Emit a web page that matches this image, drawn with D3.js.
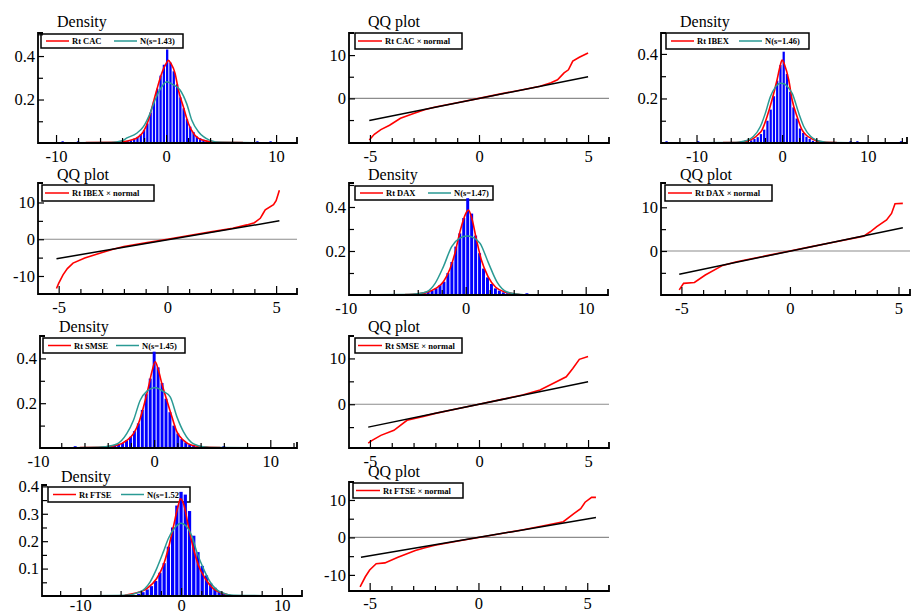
<!DOCTYPE html>
<html>
<head>
<meta charset="utf-8">
<script src="https://cdn.jsdelivr.net/npm/d3@7/dist/d3.min.js"></script>
<style>
  body { margin: 0; background: #fff; }
  svg text { font-family: "Liberation Serif", "Times New Roman", serif; fill: #000; }
  .tick text { font-size: 16.5px; }
  .title { font-size: 16px; }
  .leg { font-size: 8.5px; font-weight: bold; }
</style>
</head>
<body>
<svg id="chart" width="911" height="614"></svg>
<script>
// ---- values ----
const markets = ["CAC", "IBEX", "DAX", "SMSE", "FTSE"];
const normalSigma = ["1.43", "1.46", "1.47", "1.45", "1.52"];

// histogram: first bin edge, bin width, bar heights
const histStart = [-4.25, -4.18, -3.63, -3.57, -4.41];
const histWidth = [0.30, 0.38, 0.33, 0.34, 0.42];
const histCAC = [0.005,0.008,0.01,0.012,0.02,0.028,0.04,0.06,0.09,0.14,0.19,0.25,0.31,0.36,0.43,0.37,0.33,0.27,0.21,0.16,0.11,0.075,0.05,0.03,0.022,0.015,0.01,0.006,0.004];
const histIBEX = [0.007,0.012,0.018,0.026,0.04,0.06,0.1,0.15,0.21,0.28,0.35,0.41,0.31,0.23,0.16,0.11,0.065,0.045,0.028,0.018,0.01,0.006];
const histDAX = [0.012,0.015,0.02,0.03,0.045,0.06,0.1,0.15,0.22,0.28,0.35,0.44,0.37,0.27,0.19,0.12,0.08,0.05,0.03,0.02,0.012,0.008,0.005];
const histSMSE = [0.01,0.016,0.022,0.034,0.05,0.075,0.11,0.17,0.24,0.31,0.43,0.36,0.29,0.22,0.16,0.1,0.065,0.04,0.025,0.016,0.01,0.006];
const histFTSE = [0.008,0.014,0.024,0.036,0.055,0.085,0.12,0.18,0.25,0.33,0.38,0.37,0.31,0.22,0.16,0.11,0.075,0.046,0.03,0.018,0.01];

// isolated observations far in the tails
const tailCAC = [-9.4, -8.0, 8.3, 9.5];
const tailIBEX = [-13.5, -9.8, 8.0, 8.8, 13.9];
const tailDAX = [5.1];
const tailSMSE = [-6.8, 6.0];
const tailFTSE = [];

// kernel density (red) [x, density]
const kernelCAC = [[-7.3,0.002],[-4.5,0.003],[-4,0.006],[-3.5,0.009],[-3,0.016],[-2.6,0.025],[-2.06,0.052],[-1.6,0.106],[-1.3,0.16],[-0.85,0.244],[-0.4,0.32],[0,0.365],[0.21,0.38],[0.45,0.365],[0.82,0.32],[1.12,0.244],[1.57,0.167],[2.03,0.09],[2.6,0.037],[3,0.02],[3.5,0.011],[4,0.006],[4.5,0.003],[7,0.002]];
const kernelIBEX = [[-6.9,0.002],[-5.3,0.002],[-4.5,0.006],[-4,0.01],[-3.3,0.022],[-2.8,0.038],[-2.35,0.058],[-1.76,0.118],[-1.18,0.193],[-0.59,0.283],[-0.2,0.35],[0,0.373],[0.3,0.35],[0.78,0.283],[1.18,0.193],[1.76,0.118],[2.35,0.058],[2.8,0.036],[3.33,0.022],[4,0.01],[4.9,0.004],[6.4,0.002]];
const kernelDAX = [[-5.05,0.002],[-4,0.006],[-3.25,0.012],[-2.5,0.03],[-1.86,0.06],[-1.3,0.12],[-0.9,0.19],[-0.47,0.29],[0,0.37],[0.22,0.386],[0.5,0.35],[0.9,0.25],[1.3,0.16],[1.85,0.085],[2.5,0.035],[3.35,0.012],[4,0.006],[4.5,0.002]];
const kernelSMSE = [[-6.4,0.002],[-4.4,0.004],[-3.2,0.012],[-2.36,0.034],[-1.78,0.064],[-1.35,0.109],[-0.92,0.183],[-0.49,0.273],[-0.15,0.35],[0.09,0.385],[0.35,0.35],[0.66,0.288],[1.09,0.213],[1.53,0.139],[1.96,0.072],[2.53,0.034],[3.25,0.012],[4.5,0.004],[5.7,0.002]];
const kernelFTSE = [[-5.6,0.003],[-4.7,0.009],[-3.4,0.027],[-2.42,0.064],[-1.76,0.112],[-1.26,0.174],[-0.76,0.253],[-0.35,0.32],[-0.05,0.355],[0.3,0.33],[0.73,0.253],[1.22,0.174],[1.72,0.112],[2.39,0.064],[3.2,0.027],[4.2,0.009],[4.9,0.003]];

// fitted normal (teal) [x, density]
const normalCAC = [[-11.64,0],[-5,0.002],[-4,0.01],[-3.6,0.022],[-2.67,0.045],[-2.06,0.075],[-1.45,0.137],[-1.0,0.198],[-0.5,0.25],[0.06,0.282],[0.5,0.272],[1.27,0.244],[1.88,0.18],[2.33,0.106],[2.94,0.052],[3.4,0.029],[4,0.012],[5,0.003],[11.9,0]];
const normalIBEX = [[-14.15,0],[-5.5,0.002],[-4.5,0.008],[-3.9,0.015],[-3.33,0.03],[-2.55,0.073],[-1.96,0.133],[-1.37,0.208],[-0.8,0.25],[-0.2,0.268],[0.3,0.265],[0.7,0.25],[1.18,0.223],[1.96,0.133],[2.55,0.073],[3.33,0.03],[3.9,0.015],[4.5,0.008],[5.5,0.002],[14.6,0]];
const normalDAX = [[-9.73,0],[-5,0.002],[-4,0.006],[-3.25,0.015],[-2.55,0.053],[-1.86,0.129],[-1.17,0.22],[-0.5,0.258],[0.1,0.268],[0.6,0.262],[1.2,0.235],[1.9,0.145],[2.6,0.06],[3.4,0.015],[4.2,0.005],[5.5,0.001],[11.86,0]];
const normalSMSE = [[-9.83,0],[-5.5,0.002],[-4.2,0.006],[-3.2,0.018],[-2.36,0.064],[-1.78,0.124],[-1.2,0.213],[-0.6,0.255],[0.09,0.27],[0.7,0.255],[1.38,0.228],[1.96,0.139],[2.53,0.072],[3.4,0.018],[4.3,0.005],[5.5,0.002],[12.3,0]];
const normalFTSE = [[-13.8,0],[-5.5,0.003],[-4.08,0.015],[-3.08,0.051],[-2.42,0.1],[-1.76,0.161],[-1.26,0.21],[-0.6,0.25],[0,0.265],[0.5,0.255],[1.06,0.22],[1.56,0.161],[2.22,0.1],[2.89,0.051],[3.88,0.015],[5.2,0.003],[12.0,0]];

// QQ plots: empirical quantiles (red) and reference line (black)
const qqCAC = [[-5.03,-9.6],[-4.8,-8.3],[-4.5,-7.2],[-4.1,-6.2],[-3.6,-4.6],[-3.0,-3.5],[-2.5,-2.6],[-2,-2.0],[-1,-1.0],[0,0],[1,1.05],[2,2.0],[2.8,2.8],[3.3,3.6],[3.6,4.3],[3.9,5.9],[4.1,6.6],[4.3,8.6],[4.6,9.5],[5.0,10.5]];
const qqIBEX = [[-5.1,-13.4],[-5.0,-12],[-4.8,-9.7],[-4.6,-8],[-4.34,-6.5],[-3.8,-5.1],[-3.0,-3.6],[-2.5,-2.7],[-2,-2.0],[-1,-1],[0,0],[1,1],[2,2],[3,3],[3.66,3.9],[4.0,4.5],[4.27,5.7],[4.4,7],[4.5,8.0],[4.88,9.4],[5.0,10.5],[5.15,13.3]];
const qqDAX = [[-5.1,-8.9],[-4.9,-7.4],[-4.4,-7.2],[-3.9,-5.5],[-3.1,-3.3],[-2.5,-2.5],[-2,-2],[-1,-1],[0,0],[1,1],[2,2],[3,3.0],[3.4,3.4],[3.7,4.4],[4.0,5.6],[4.45,7.1],[4.68,8.6],[4.84,10.8],[5.2,10.9]];
const qqSMSE = [[-5.08,-8.5],[-4.9,-7.9],[-4.5,-6.8],[-3.9,-5.7],[-3.3,-3.5],[-2.5,-2.6],[-2,-2],[-1,-1],[0,0],[1,1],[2,2],[2.8,3.1],[3.55,4.9],[4.0,6.0],[4.3,7.8],[4.6,9.8],[5.0,10.4]];
const qqFTSE = [[-5.44,-13.2],[-5.2,-10.5],[-5.0,-8.7],[-4.7,-7.0],[-4.3,-6.8],[-3.7,-5.3],[-2.9,-3.5],[-2.5,-2.8],[-2,-2.1],[-1,-1],[0,0],[1,1],[2,2],[3,3.1],[3.9,4.2],[4.4,6.4],[4.7,7.7],[4.9,9.4],[5.2,10.7],[5.4,10.7]];
const qqLineCAC = [[-5.03,-5.1],[5.0,5.0]];
const qqLineIBEX = [[-5.1,-5.3],[5.15,5.0]];
const qqLineDAX = [[-5.1,-5.3],[5.2,5.3]];
const qqLineSMSE = [[-5.08,-5.0],[5.0,4.9]];
const qqLineFTSE = [[-5.4,-5.3],[5.4,5.3]];

// tick labels
const densXLabels = [-10, 0, 10];
const densYLabels = [0.2, 0.4];
const ftseYLabels = [0.1, 0.2, 0.3, 0.4];
const qqXLabels = [-5, 0, 5];
const qqYLabels = [[0, 10], [-10, 0, 10], [0, 10], [0, 10], [-10, 0, 10]];

const hists = [histCAC, histIBEX, histDAX, histSMSE, histFTSE];
const tails = [tailCAC, tailIBEX, tailDAX, tailSMSE, tailFTSE];
const kernels = [kernelCAC, kernelIBEX, kernelDAX, kernelSMSE, kernelFTSE];
const normals = [normalCAC, normalIBEX, normalDAX, normalSMSE, normalFTSE];
const qqs = [qqCAC, qqIBEX, qqDAX, qqSMSE, qqFTSE];
const qqLines = [qqLineCAC, qqLineIBEX, qqLineDAX, qqLineSMSE, qqLineFTSE];

// ---- layout ----
const densBoxes = [
  {L: 38, T: 33, R: 297, B: 143, xd: [-11.64, 11.9], yd: [0, 0.506], pad: 7, tt: 6},
  {L: 661, T: 33, R: 907, B: 143, xd: [-14.15, 14.6], yd: [0, 0.494], pad: 7, tt: 6},
  {L: 349, T: 183, R: 608, B: 295, xd: [-9.73, 11.86], yd: [0, 0.509], pad: 7, tt: 3},
  {L: 40, T: 336, R: 297, B: 448, xd: [-9.83, 12.3], yd: [0, 0.5], pad: 7, tt: 4},
  {L: 42, T: 485, R: 302, B: 596, xd: [-13.8, 12.0], yd: [0, 0.405], pad: 3, tt: 3}
];
const densLegend = [[41, 34, 142, 14], [666, 33, 143, 16], [355, 186, 138, 14], [43, 338, 142, 15], [48, 487, 142, 15]];
const qqBoxes = [
  {L: 349, T: 33, R: 609, B: 143, xd: [-5.96, 5.96], yd: [-10.3, 15.1], pad: 7, tt: 6},
  {L: 38, T: 183, R: 297, B: 294, xd: [-5.95, 5.96], yd: [-14.9, 15.3], pad: 7, tt: 3},
  {L: 661, T: 183, R: 910, B: 295, xd: [-5.94, 5.53], yd: [-10.07, 15.56], pad: 7, tt: 3},
  {L: 349, T: 336, R: 609, B: 448, xd: [-5.96, 5.96], yd: [-9.56, 14.9], pad: 7, tt: 4},
  {L: 349, T: 482, R: 609, B: 591, xd: [-5.95, 6.0], yd: [-14.3, 14.8], pad: 6, tt: 5}
];
const qqLegend = [[355, 33, 107, 16], [42, 185, 112, 16], [665, 185, 107, 16], [355, 338, 107, 15], [353, 483, 110, 15]];

const RED = "#ff0000", TEAL = "#2a9a94", BLUE = "#0000ff";
const svg = d3.select("#chart");

function title(g, p, txt) {
  g.append("text").attr("class", "title").attr("x", p.L + 19).attr("y", p.T - p.tt).text(txt);
}

function steps(lo, hi, step, skip) {
  // tick positions inside the axis range, leaving out labelled ones
  return d3.range(Math.ceil(lo / step) * step, hi, step)
    .map(v => +v.toFixed(3))
    .filter(v => v > lo + step * 0.1 && !skip.includes(v));
}

function axes(g, p, x, y, xMinor, xMajor, yMinor, yMajor) {
  const fmt = d => String(d);
  const inX = d => d >= p.xd[0] && d <= p.xd[1];

  const gxm = g.append("g").attr("transform", `translate(0,${p.B})`)
    .call(d3.axisBottom(x).tickValues(xMinor).tickSize(-5).tickSizeOuter(0).tickFormat(""));
  const gx = g.append("g").attr("transform", `translate(0,${p.B})`)
    .call(d3.axisBottom(x).tickValues(xMajor).tickSize(-8).tickSizeOuter(0).tickPadding(p.pad).tickFormat(fmt));
  gx.selectAll(".tick line").filter(d => !inX(d)).remove();

  const gym = g.append("g").attr("transform", `translate(${p.L},0)`)
    .call(d3.axisLeft(y).tickValues(yMinor).tickSize(-5).tickSizeOuter(0).tickFormat(""));
  const gy = g.append("g").attr("transform", `translate(${p.L},0)`)
    .call(d3.axisLeft(y).tickValues(yMajor).tickSize(-6).tickSizeOuter(0).tickPadding(3).tickFormat(fmt));

  [gxm, gx, gym, gy].forEach(a => {
    a.attr("font-family", null).attr("font-size", null);
    a.select(".domain").remove();
    a.selectAll(".tick line").attr("stroke-width", 1.2);
  });

  // axis frame with the little end stubs
  g.append("path")
    .attr("d", `M${p.L + 5},${p.T}H${p.L}V${p.B}H${p.R}V${p.B - 6}`)
    .attr("fill", "none").attr("stroke", "#000").attr("stroke-width", 1.8);
}

function drawDensity(i) {
  const p = densBoxes[i];
  const g = svg.append("g");
  const x = d3.scaleLinear().domain(p.xd).range([p.L, p.R]);
  const y = d3.scaleLinear().domain(p.yd).range([p.B, p.T]);

  title(g, p, "Density");

  // legend
  const [lx, ly, lw, lh] = densLegend[i];
  const my = ly + lh / 2;
  g.append("rect").attr("x", lx).attr("y", ly).attr("width", lw).attr("height", lh)
    .attr("fill", "#fff").attr("stroke", "#000").attr("stroke-width", 1.5);
  g.append("line").attr("x1", lx + 5).attr("x2", lx + 28).attr("y1", my).attr("y2", my)
    .attr("stroke", RED).attr("stroke-width", 1.5);
  g.append("text").attr("class", "leg").attr("x", lx + 31).attr("y", my + 3).text("Rt " + markets[i]);
  g.append("line").attr("x1", lx + 73).attr("x2", lx + 96).attr("y1", my).attr("y2", my)
    .attr("stroke", TEAL).attr("stroke-width", 1.5);
  g.append("text").attr("class", "leg").attr("x", lx + 99).attr("y", my + 3)
    .text("N(s=" + normalSigma[i] + ")");

  // histogram
  const w = histWidth[i], s = histStart[i];
  const bw = x(s + w) - x(s);
  g.append("g").selectAll("rect").data(hists[i]).join("rect")
    .attr("x", (d, k) => x(s + k * w) + 0.5)
    .attr("width", bw - 1)
    .attr("y", d => y(d))
    .attr("height", d => y(0) - y(d))
    .attr("fill", BLUE);
  g.append("g").selectAll("rect").data(tails[i]).join("rect")
    .attr("x", d => x(d) - bw / 2 + 0.5)
    .attr("width", bw - 1)
    .attr("y", y(0.008))
    .attr("height", y(0) - y(0.008))
    .attr("fill", BLUE);

  const line = d3.line().x(d => x(d[0])).y(d => y(d[1])).curve(d3.curveMonotoneX);
  g.append("path").attr("d", line(kernels[i])).attr("fill", "none")
    .attr("stroke", RED).attr("stroke-width", 1.6);
  g.append("path").attr("d", line(normals[i])).attr("fill", "none")
    .attr("stroke", TEAL).attr("stroke-width", 1.5);

  const ylab = i === 4 ? ftseYLabels : densYLabels;
  const ystep = i === 4 ? 0.05 : 0.1;
  axes(g, p, x, y,
    steps(p.xd[0], p.xd[1], 2, densXLabels),
    densXLabels,
    steps(0, p.yd[1], ystep, ylab),
    ylab);
}

function drawQQ(i) {
  const p = qqBoxes[i];
  const g = svg.append("g");
  const x = d3.scaleLinear().domain(p.xd).range([p.L, p.R]);
  const y = d3.scaleLinear().domain(p.yd).range([p.B, p.T]);

  title(g, p, "QQ plot");

  const [lx, ly, lw, lh] = qqLegend[i];
  const my = ly + lh / 2;
  g.append("rect").attr("x", lx).attr("y", ly).attr("width", lw).attr("height", lh)
    .attr("fill", "#fff").attr("stroke", "#000").attr("stroke-width", 1.5);
  g.append("line").attr("x1", lx + 3).attr("x2", lx + 27).attr("y1", my).attr("y2", my)
    .attr("stroke", RED).attr("stroke-width", 1.5);
  g.append("text").attr("class", "leg").attr("x", lx + 30).attr("y", my + 3)
    .text("Rt " + markets[i] + " \u00d7 normal");

  // zero line
  g.append("line").attr("x1", p.L).attr("x2", p.R).attr("y1", y(0)).attr("y2", y(0))
    .attr("stroke", "#8c8c8c").attr("stroke-width", 1.2);

  const line = d3.line().x(d => x(d[0])).y(d => y(d[1]));
  g.append("path").attr("d", line(qqs[i])).attr("fill", "none")
    .attr("stroke", RED).attr("stroke-width", 1.6);
  g.append("path").attr("d", line(qqLines[i])).attr("fill", "none")
    .attr("stroke", "#000").attr("stroke-width", 1.5);

  axes(g, p, x, y,
    steps(p.xd[0], p.xd[1], 1, qqXLabels),
    qqXLabels,
    steps(p.yd[0], p.yd[1] - 1, 5, qqYLabels[i]).filter(v => v > p.yd[0] + 1),
    qqYLabels[i]);
}

// grid order: density / QQ pairs, filled row by row
for (let i = 0; i < 5; i++) {
  drawDensity(i);
  drawQQ(i);
}
</script>
</body>
</html>
